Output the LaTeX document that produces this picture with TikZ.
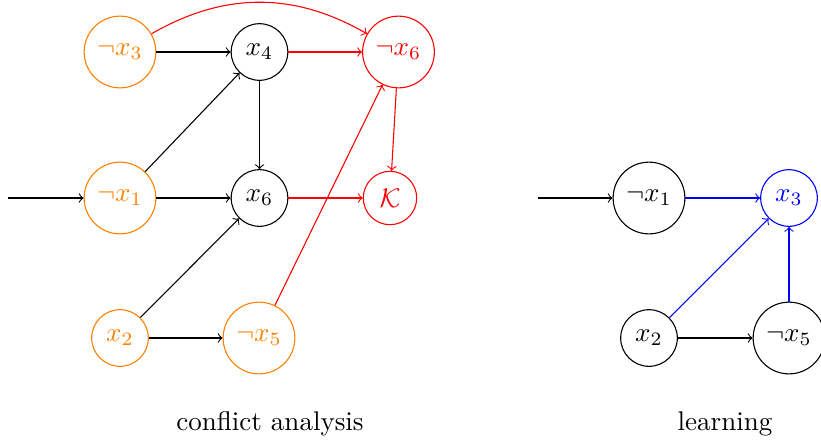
\documentclass[tikz,border=0pt]{standalone}
\usepackage{amssymb}
\begin{document}
\begin{tikzpicture}[x=0.37pt,y=-0.37pt,
  vnode/.style={circle,draw},
  onode/.style={circle,draw=orange,text=orange},
  rnode/.style={circle,draw=red,text=red},
  bnode/.style={circle,draw=blue,text=blue},
  arr/.style={->},
  rarr/.style={->,red},
  barr/.style={->,blue}]
\useasboundingbox (0,0) rectangle (821,441);
% left graph
\node[onode] (nx3) at (120,52) {$\neg x_3$};
\node[vnode] (x4) at (259.5,52) {$x_4$};
\node[rnode] (nx6) at (398.5,52) {$\neg x_6$};
\node[onode] (nx1) at (120,198) {$\neg x_1$};
\node[vnode] (x6) at (259.5,198) {$x_6$};
\node[rnode] (K) at (390,198) {$\mathcal{K}$};
\node[onode] (x2) at (120,338) {$x_2$};
\node[onode] (nx5) at (259,338) {$\neg x_5$};
\coordinate (inL) at (8,198);
\draw[arr] (inL) -- (nx1);
\draw[arr] (nx3) -- (x4);
\draw[rarr] (nx3) to[bend left=30] (nx6);
\draw[rarr] (x4) -- (nx6);
\draw[arr] (x4) -- (x6);
\draw[arr] (nx1) -- (x4);
\draw[arr] (nx1) -- (x6);
\draw[arr] (x2) -- (x6);
\draw[arr] (x2) -- (nx5);
\draw[rarr] (nx5) -- (nx6);
\draw[rarr] (nx6) -- (K);
\draw[rarr] (x6) -- (K);
\node (capL) at (270,424) {conflict analysis};
% right graph
\node[vnode] (rnx1) at (649,198) {$\neg x_1$};
\node[bnode] (rx3) at (789,198) {$x_3$};
\node[vnode] (rx2) at (649,338) {$x_2$};
\node[vnode] (rnx5) at (789,338) {$\neg x_5$};
\coordinate (inR) at (538,198);
\draw[arr] (inR) -- (rnx1);
\draw[barr] (rnx1) -- (rx3);
\draw[barr] (rx2) -- (rx3);
\draw[barr] (rnx5) -- (rx3);
\draw[arr] (rx2) -- (rnx5);
\node (capR) at (725,424) {learning};
\end{tikzpicture}
\end{document}
